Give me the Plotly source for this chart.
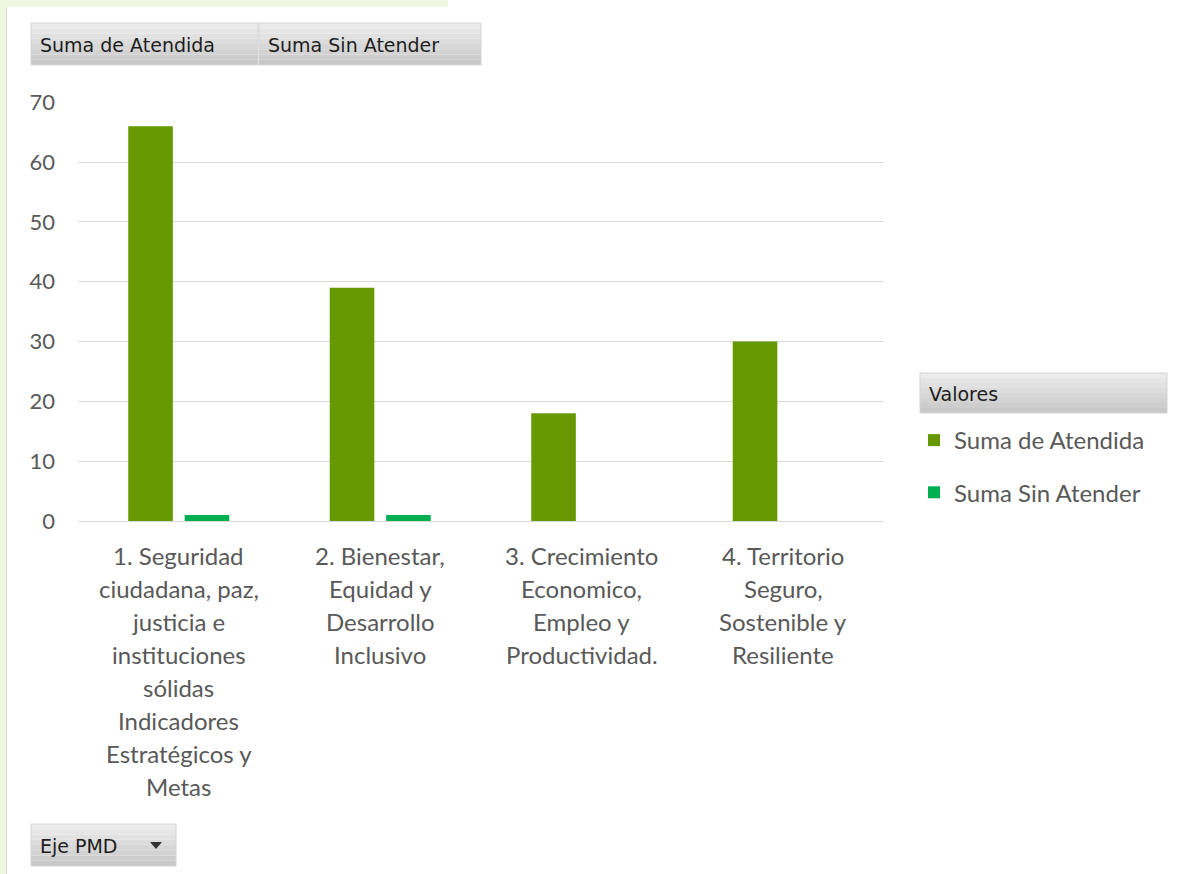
import plotly.graph_objects as go

categories = [
    "1. Seguridad ciudadana, paz, justicia e instituciones sólidas Indicadores Estratégicos y Metas",
    "2. Bienestar, Equidad y Desarrollo Inclusivo",
    "3. Crecimiento Economico, Empleo y Productividad.",
    "4. Territorio Seguro, Sostenible y Resiliente",
]
category_lines = [
    ["1. Seguridad", "ciudadana, paz,", "justicia e", "instituciones", "sólidas",
     "Indicadores", "Estratégicos y", "Metas"],
    ["2. Bienestar,", "Equidad y", "Desarrollo", "Inclusivo"],
    ["3. Crecimiento", "Economico,", "Empleo y", "Productividad."],
    ["4. Territorio", "Seguro,", "Sostenible y", "Resiliente"],
]
atendida = [66, 39, 18, 30]
sin_atender = [1, 1, 0, 0]
y_ticks = [0, 10, 20, 30, 40, 50, 60, 70]

W, H = 1181, 874
L, R, T, B = 78, 884, 102, 521
PW, PH = R - L, B - T


def px(x):
    return (x - L) / PW


def py(y):
    return (B - y) / PH


AXIS_FONT = "Lato, 'Open Sans', sans-serif"
TEXT_GREY = "#595959"

fig = go.Figure()
fig.add_trace(go.Bar(name="Suma de Atendida", x=categories, y=atendida,
                     marker=dict(color="#669900", line=dict(width=0)),
                     legendgroup="a"))
fig.add_trace(go.Bar(name="Suma Sin Atender", x=categories, y=sin_atender,
                     marker=dict(color="#00b050", line=dict(width=0)),
                     legendgroup="b"))

shapes = []
annotations = []

# Light green frame (worksheet background)
shapes.append(dict(type="rect", xref="paper", yref="paper", x0=px(0), x1=px(6),
                   y0=py(874), y1=py(0), fillcolor="#eef7df", line=dict(width=0), layer="below"))
shapes.append(dict(type="rect", xref="paper", yref="paper", x0=px(0), x1=px(448),
                   y0=py(7), y1=py(0), fillcolor="#eef7df", line=dict(width=0), layer="below"))
shapes.append(dict(type="line", xref="paper", yref="paper", x0=px(6.5), x1=px(6.5),
                   y0=py(874), y1=py(7), line=dict(color="#d8dccf", width=1), layer="below"))


def button(x0, y0, x1, y1, text, arrow=False):
    n = 8
    top = (236, 236, 236)
    bot = (200, 200, 200)
    h = (y1 - y0) / n
    for i in range(n):
        t = i / (n - 1)
        c = tuple(int(top[k] + (bot[k] - top[k]) * t) for k in range(3))
        shapes.append(dict(type="rect", xref="paper", yref="paper",
                           x0=px(x0), x1=px(x1), y0=py(y0 + h * (i + 1)), y1=py(y0 + h * i),
                           fillcolor="rgb(%d,%d,%d)" % c, line=dict(width=0)))
    shapes.append(dict(type="rect", xref="paper", yref="paper",
                       x0=px(x0), x1=px(x1), y0=py(y1), y1=py(y0),
                       fillcolor="rgba(0,0,0,0)", line=dict(color="#d4d4d4", width=1)))
    annotations.append(dict(xref="paper", yref="paper", x=px(x0 + 7), y=py((y0 + y1) / 2 + 1),
                            xanchor="left", yanchor="middle", text=text, showarrow=False,
                            font=dict(family="DejaVu Sans, Verdana, sans-serif", size=19,
                                      color="#1e1e1e")))
    if arrow:
        ax, ay = x1 - 20, (y0 + y1) / 2
        shapes.append(dict(type="path", xref="paper", yref="paper",
                           path="M %f %f L %f %f L %f %f Z" % (px(ax - 6), py(ay - 3), px(ax + 6), py(ay - 3),
                                                                px(ax), py(ay + 4)),
                           fillcolor="#333333", line=dict(width=0)))


button(31, 23, 258, 65, "Suma de Atendida")
button(259, 23, 481, 65, "Suma Sin Atender")
button(920, 373, 1167, 413, "Valores")
button(31, 824, 176, 866, "Eje PMD", arrow=True)

# Category labels, one line each
for cat, lines in zip(categories, category_lines):
    for i, line in enumerate(lines):
        annotations.append(dict(xref="x", yref="paper", x=cat, y=py(555 + 33 * i),
                                xanchor="center", yanchor="middle", text=line, showarrow=False,
                                font=dict(family=AXIS_FONT, size=24, color=TEXT_GREY)))

fig.update_layout(
    width=W, height=H,
    margin=dict(l=L, r=W - R, t=T, b=H - B, autoexpand=False),
    paper_bgcolor="white", plot_bgcolor="white",
    barmode="group", bargap=0.44, bargroupgap=0.21,
    showlegend=True,
    legend=dict(x=px(914), y=py(418), xanchor="left", yanchor="top",
                font=dict(family=AXIS_FONT, size=24, color=TEXT_GREY),
                bgcolor="rgba(0,0,0,0)", tracegroupgap=18, traceorder="grouped"),
    xaxis=dict(showticklabels=False, showgrid=False, showline=False, ticks=""),
    yaxis=dict(range=[0, 70.05], tickvals=y_ticks, showgrid=True, gridcolor="#d9d9d9", gridwidth=1,
               zeroline=True, zerolinecolor="#d9d9d9", zerolinewidth=1, showline=False,
               ticks="", ticklabelstandoff=22,
               tickfont=dict(family=AXIS_FONT, size=22, color=TEXT_GREY)),
    shapes=shapes, annotations=annotations,
)

fig.write_html("out.html", config={"displayModeBar": False},
               post_script="document.body.style.margin='0';")
